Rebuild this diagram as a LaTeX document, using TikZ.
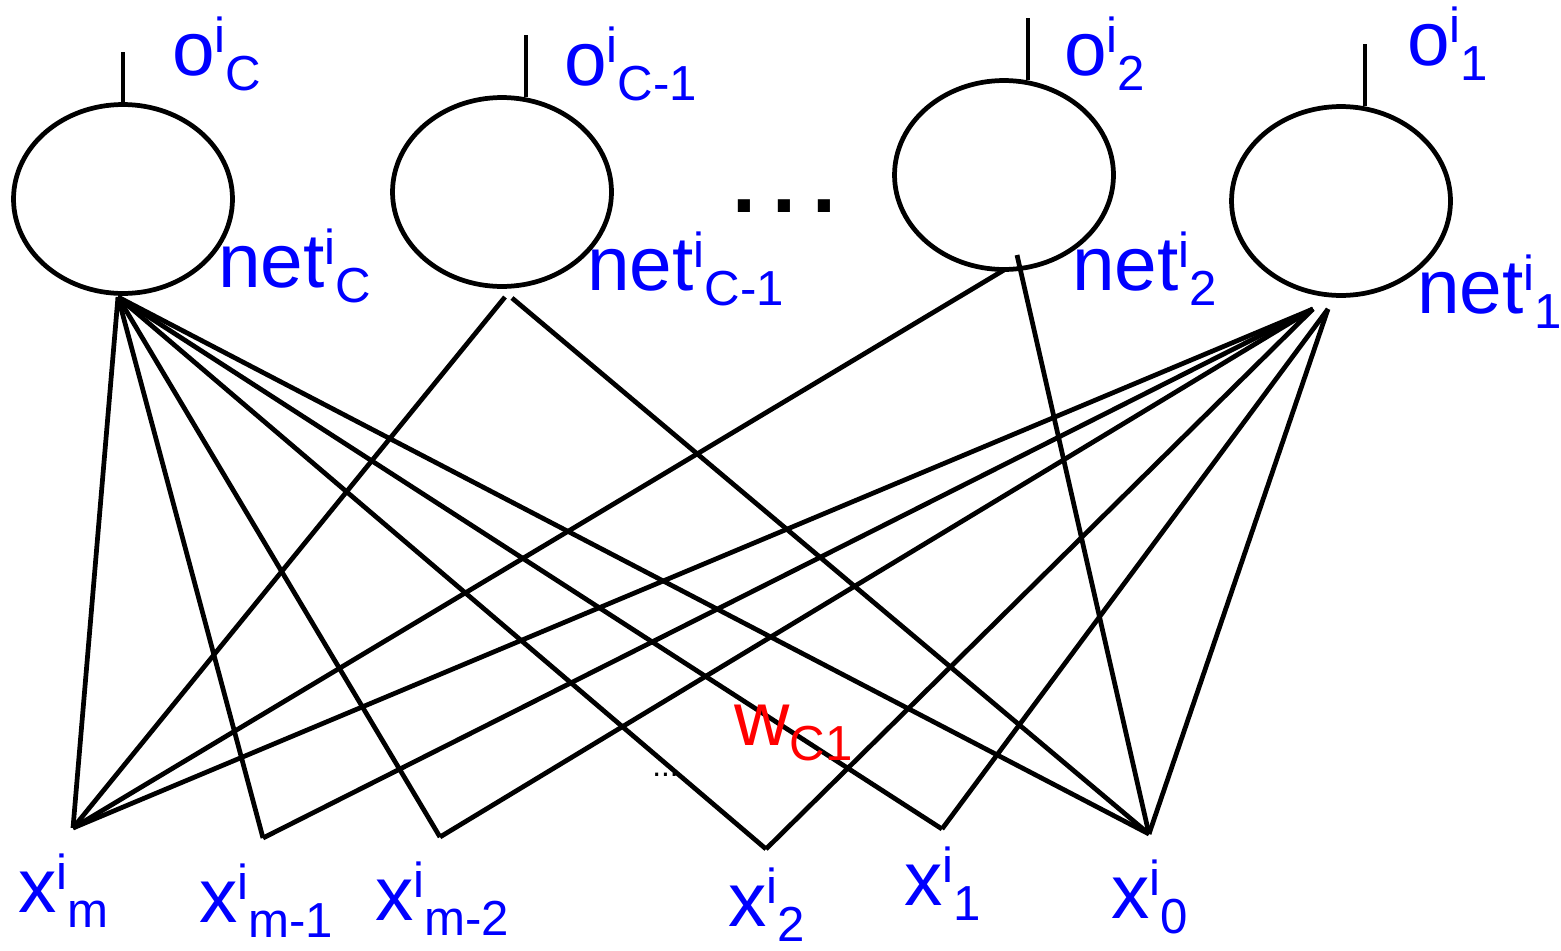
\documentclass[tikz,border=0pt]{standalone}
\usepackage{fontspec}
\setmainfont{Liberation Sans}
\usetikzlibrary{shapes.geometric}

\newcommand{\lbl}[3]{#1\raisebox{0.3em}{\fontsize{28}{28}\selectfont #2}\raisebox{-0.2em}{\fontsize{28}{28}\selectfont #3}}

\begin{document}
\begin{tikzpicture}[x=0.02cm,y=-0.02cm,
	unit/.style={draw,ellipse,line width=2.7pt,minimum width=4.38cm,minimum height=3.78cm,inner sep=0pt},
	wire/.style={line width=2.7pt},
	stub/.style={line width=2.3pt},
	txt/.style={anchor=base west,inner sep=0pt,text=blue,font=\fontsize{43.6}{50}\selectfont}]

\useasboundingbox (0,0) rectangle (1561,950);

% output units
\node[unit] (nC) at (123,199) {};
\node[unit] (nCm) at (502,192) {};
\node[unit] (n2) at (1004,175) {};
\node[unit] (n1) at (1341,201) {};
\draw[stub] (nC.north) -- ++(0,-50);
\foreach \u in {nCm,n2,n1}
	\draw[stub] (\u.76) -- ++(0,-62);

\node[anchor=base west,inner sep=0pt,font=\fontsize{48.8}{50}\bfseries] (dots) at (732,212) {.\hspace{0.32cm}.\hspace{0.32cm}.};

% inputs
\coordinate (inM) at (73,828);
\coordinate (inMa) at (263,838);
\coordinate (inMb) at (440,837);
\coordinate (in2) at (766,849);
\coordinate (in1) at (942,829);
\coordinate (in0) at (1149,834);

% where the wires leave the units
\coordinate (cC) at (118,297);
\coordinate (cCa) at (505,297);
\coordinate (cCb) at (512,298);
\coordinate (c2a) at (1004,270);
\coordinate (c2b) at (1017,255);
\coordinate (c1a) at (1313,309);
\coordinate (c1b) at (1328,309);

\foreach \t in {inM,inMa,inMb,in2,in1,in0}
	\draw[wire] (cC) -- (\t);
\foreach \s/\t in {cCa/inM, cCb/in0, c2a/inM, c2b/in0, c1a/inM, c1a/inMa, c1a/inMb, c1a/in2, c1b/in1, c1b/in0}
	\draw[wire] (\s) -- (\t);

% labels
\node[txt] (oC) at (172,75) {\lbl{o}{i}{C}};
\node[txt] (oCm) at (564,85) {\lbl{o}{i}{C-1}};
\node[txt] (o2) at (1064,75) {\lbl{o}{i}{2}};
\node[txt] (o1) at (1407,65) {\lbl{o}{i}{1}};
\node[txt] (netC) at (218,287) {\lbl{net}{i}{C}};
\node[txt] (netCm) at (587,290) {\lbl{net}{i}{C-1}};
\node[txt] (net2) at (1072,290) {\lbl{net}{i}{2}};
\node[txt] (net1) at (1417,313) {\lbl{net}{i}{1}};

\node[txt] (xM) at (18,912) {\lbl{x}{i}{m}};
\node[txt] (xMa) at (199,922) {\lbl{x}{i}{m-1}};
\node[txt] (xMb) at (375,920) {\lbl{x}{i}{m-2}};
\node[txt] (x2) at (728,926) {\lbl{x}{i}{2}};
\node[txt] (x1) at (904,905) {\lbl{x}{i}{1}};
\node[txt] (x0) at (1111,918) {\lbl{x}{i}{0}};

\node[txt,text=red] (wC1) at (734,745) {\lbl{w}{}{C1}};
\node[anchor=base west,inner sep=0pt,font=\fontsize{18}{20}\selectfont] (gap) at (652,776) {...};

\end{tikzpicture}
\end{document}
